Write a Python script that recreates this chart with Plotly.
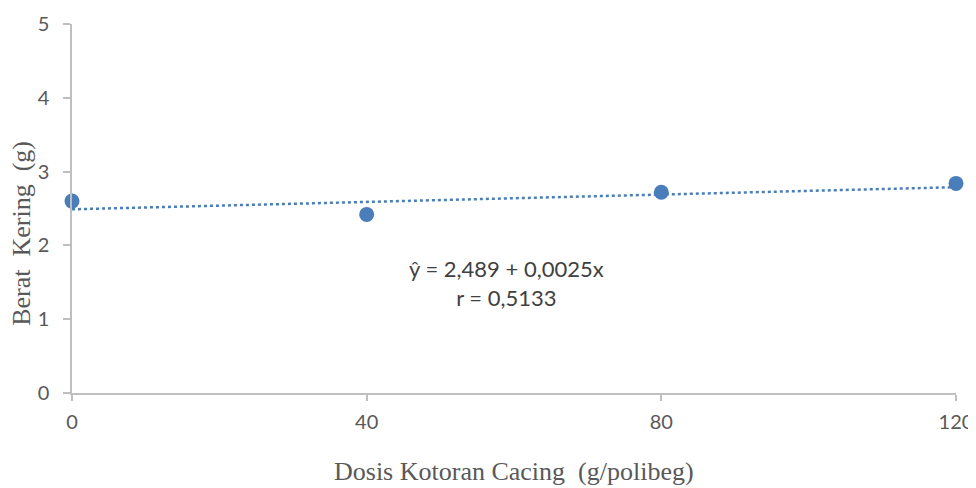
import plotly.graph_objects as go

dosis = [0, 40, 80, 120]
berat = [2.6, 2.42, 2.72, 2.84]
intercept = 2.489
slope = 0.0025
x_ticks = [0, 40, 80, 120]
y_ticks = [0, 1, 2, 3, 4, 5]

trend_x = [min(dosis), max(dosis)]
trend_y = [intercept + slope * v for v in trend_x]

color = "#4A7EBB"
axis_col = "#BFBFBF"
tick_font = dict(family="Lato, Open Sans, sans-serif", size=20, color="#595959")
serif = "Liberation Serif, Times New Roman, serif"

fig = go.Figure()
fig.add_trace(go.Scatter(x=trend_x, y=trend_y, mode="lines",
                         line=dict(color=color, width=2.5, dash="dot"),
                         hoverinfo="skip", showlegend=False, cliponaxis=False))
fig.add_trace(go.Scatter(x=dosis, y=berat, mode="markers",
                         marker=dict(color=color, size=15),
                         showlegend=False, cliponaxis=False))

fig.add_annotation(x=0.491, y=0.298, xref="paper", yref="paper",
                   xanchor="center", yanchor="middle",
                   text="ŷ = 2,489 + 0,0025x<br>r = 0,5133", showarrow=False,
                   font=dict(family="Lato, Open Sans, sans-serif", size=22, color="#404040"),
                   align="center")
fig.add_annotation(x=0.5, y=-0.212, xref="paper", yref="paper",
                   xanchor="center", yanchor="middle",
                   text="Dosis Kotoran Cacing  (g/polibeg)", showarrow=False,
                   font=dict(family=serif, size=26, color="#595959"))
fig.add_annotation(x=-0.0566, y=0.434, xref="paper", yref="paper",
                   xanchor="center", yanchor="middle", textangle=-90,
                   text="Berat  Kering  (g)", showarrow=False,
                   font=dict(family=serif, size=26, color="#595959"))

fig.update_layout(
    width=968, height=480,
    margin=dict(l=64, r=20, t=16, b=95),
    paper_bgcolor="white", plot_bgcolor="white",
    xaxis=dict(range=[0, 120], tickvals=x_ticks, showgrid=False, zeroline=False,
               showline=True, linecolor=axis_col, linewidth=1.5,
               ticks="outside", ticklen=6, tickcolor=axis_col, tickwidth=1.5,
               tickfont=tick_font, ticklabelstandoff=4, automargin=False),
    yaxis=dict(range=[0, 5], tickvals=y_ticks, showgrid=False, zeroline=False,
               showline=True, linecolor=axis_col, linewidth=1.5,
               ticks="outside", ticklen=7, tickcolor=axis_col, tickwidth=1.5,
               tickfont=tick_font, ticklabelstandoff=10, automargin=False),
)

fig.write_html("out.html")
